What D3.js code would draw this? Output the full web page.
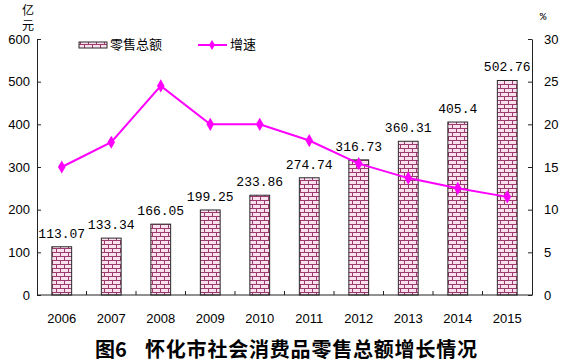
<!DOCTYPE html>
<html>
<head>
<meta charset="utf-8">
<script src="https://cdn.jsdelivr.net/npm/d3@7"></script>
<style>
  body { margin: 0; background: #fff; }
  svg { display: block; }
</style>
</head>
<body>
<div id="chart"></div>
<script>
const years = ['2006', '2007', '2008', '2009', '2010', '2011', '2012', '2013', '2014', '2015'];
const retailTotal = [113.07, 133.34, 166.05, 199.25, 233.86, 274.74, 316.73, 360.31, 405.4, 502.76];
const growthRate = [15.0, 17.9, 24.5, 20.0, 20.0, 18.1, 15.4, 13.7, 12.5, 11.5];
const leftTicks = [0, 100, 200, 300, 400, 500, 600];
const rightTicks = [0, 5, 10, 15, 20, 25, 30];

const W = 562, H = 364;
const plot = { left: 37, right: 532, top: 39, bottom: 295 };

const svg = d3.select('#chart').append('svg')
  .attr('width', W)
  .attr('height', H);

// brick pattern for the bars
const defs = svg.append('defs');
const pat = defs.append('pattern')
  .attr('id', 'brick')
  .attr('patternUnits', 'userSpaceOnUse')
  .attr('width', 8)
  .attr('height', 8);
pat.append('rect').attr('width', 8).attr('height', 8).attr('fill', '#f9e1ee');
pat.append('path')
  .attr('d', 'M0,0.5H8M0,4.5H8M0.5,0V4.5M4.5,4.5V8')
  .attr('stroke', '#9c3a6e')
  .attr('stroke-width', 1)
  .attr('fill', 'none');

const x = d3.scaleBand().domain(years).range([plot.left, plot.right]).padding(0);
const y = d3.scaleLinear().domain([0, 600]).range([plot.bottom, plot.top]);
const y2 = d3.scaleLinear().domain([0, 30]).range([plot.bottom, plot.top]);
const barW = x.bandwidth() * 0.4;

// bars
svg.append('g')
  .selectAll('rect')
  .data(retailTotal)
  .enter().append('rect')
  .attr('x', (d, i) => x(years[i]) + x.bandwidth() / 2 - barW / 2)
  .attr('y', d => y(d))
  .attr('width', barW)
  .attr('height', d => plot.bottom - y(d))
  .attr('fill', 'url(#brick)')
  .attr('stroke', '#2a2a2a')
  .attr('stroke-width', 1);

// bar value labels
svg.append('g')
  .selectAll('text')
  .data(retailTotal)
  .enter().append('text')
  .attr('x', (d, i) => x(years[i]) + x.bandwidth() / 2)
  .attr('y', d => y(d) - 9)
  .attr('text-anchor', 'middle')
  .attr('font-family', 'Liberation Mono, monospace')
  .attr('font-size', 13)
  .attr('fill', '#000')
  .text(d => d);

// left axis
const gl = svg.append('g')
  .attr('transform', `translate(${plot.left},0)`)
  .call(d3.axisLeft(y).tickValues(leftTicks).tickSizeInner(-4).tickSizeOuter(0).tickPadding(7));
gl.selectAll('text').attr('font-family', 'Liberation Sans, Arial, sans-serif').attr('font-size', 13).attr('fill', '#000');

// right axis
const gr = svg.append('g')
  .attr('transform', `translate(${plot.right},0)`)
  .call(d3.axisRight(y2).tickValues(rightTicks).tickSizeInner(-4).tickSizeOuter(0).tickPadding(12));
gr.selectAll('text').attr('font-family', 'Liberation Sans, Arial, sans-serif').attr('font-size', 13).attr('fill', '#000');

[gl, gr].forEach(g => {
  g.selectAll('path, line').attr('stroke', '#222');
});

// bottom axis line + category separator ticks
svg.append('line')
  .attr('x1', plot.left).attr('x2', plot.right)
  .attr('y1', plot.bottom).attr('y2', plot.bottom)
  .attr('stroke', '#222');
svg.append('g')
  .selectAll('line')
  .data(years.slice(1))
  .enter().append('line')
  .attr('x1', d => x(d)).attr('x2', d => x(d))
  .attr('y1', plot.bottom).attr('y2', plot.bottom - 4)
  .attr('stroke', '#222');
svg.append('g')
  .selectAll('text')
  .data(years)
  .enter().append('text')
  .attr('x', d => x(d) + x.bandwidth() / 2)
  .attr('y', 323)
  .attr('text-anchor', 'middle')
  .attr('font-family', 'Liberation Sans, Arial, sans-serif')
  .attr('font-size', 13)
  .text(d => d);

// growth line
const line = d3.line()
  .x((d, i) => x(years[i]) + x.bandwidth() / 2)
  .y(d => y2(d));
svg.append('path')
  .datum(growthRate)
  .attr('fill', 'none')
  .attr('stroke', '#ff00ff')
  .attr('stroke-width', 2)
  .attr('d', line);

const diamond = d3.symbol().type(d3.symbolDiamond).size(50);
svg.append('g')
  .selectAll('path')
  .data(growthRate)
  .enter().append('path')
  .attr('d', diamond)
  .attr('transform', (d, i) => `translate(${x(years[i]) + x.bandwidth() / 2},${y2(d)})`)
  .attr('fill', '#ff00ff');

// unit labels
const cjk = '"Noto Sans CJK SC", sans-serif';
svg.append('text')
  .attr('x', 28).attr('y', 4)
  .attr('writing-mode', 'tb')
  .attr('letter-spacing', 3)
  .attr('font-family', cjk).attr('font-size', 12)
  .text('亿元');
svg.append('text').attr('x', 543).attr('y', 20).attr('text-anchor', 'middle')
  .attr('font-family', 'Liberation Mono, monospace').attr('font-size', 11).text('%');

// legend
svg.append('rect')
  .attr('x', 79).attr('y', 42).attr('width', 28).attr('height', 6)
  .attr('fill', 'url(#brick)')
  .attr('stroke', '#2a2a2a');
svg.append('text').attr('x', 110).attr('y', 49)
  .attr('font-family', cjk).attr('font-size', 13).text('零售总额');
svg.append('line')
  .attr('x1', 198).attr('x2', 227).attr('y1', 45).attr('y2', 45)
  .attr('stroke', '#ff00ff').attr('stroke-width', 2);
svg.append('path')
  .attr('d', d3.symbol().type(d3.symbolDiamond).size(30))
  .attr('transform', 'translate(212,45)')
  .attr('fill', '#ff00ff');
svg.append('text').attr('x', 230).attr('y', 49)
  .attr('font-family', cjk).attr('font-size', 13).text('增速');

// title
svg.append('text').attr('x', 95).attr('y', 357)
  .attr('font-family', cjk).attr('font-size', 20).attr('font-weight', 'bold')
  .text('图6');
svg.append('text').attr('x', 145).attr('y', 357)
  .attr('font-family', cjk).attr('font-size', 20).attr('font-weight', 'bold')
  .attr('letter-spacing', 0.8)
  .text('怀化市社会消费品零售总额增长情况');
</script>
</body>
</html>
